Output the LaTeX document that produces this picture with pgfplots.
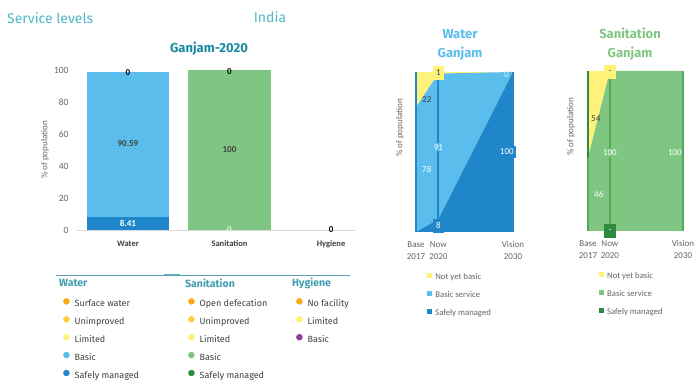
\documentclass[border=0pt]{standalone}
\usepackage{fontspec}
\setmainfont{Carlito}
\newfontfamily\fira{Fira Sans}
\usepackage{pgfplots}
\pgfplotsset{compat=1.18}
\definecolor{wdark}{RGB}{31,135,201}
\definecolor{wlight}{RGB}{91,189,236}
\definecolor{sgreen}{RGB}{128,198,131}
\definecolor{sdark}{RGB}{46,139,62}
\definecolor{smid}{RGB}{85,170,90}
\definecolor{nyb}{RGB}{255,242,122}
\definecolor{tealA}{RGB}{77,184,200}
\definecolor{tealB}{RGB}{26,138,160}
\definecolor{tealH}{RGB}{62,157,176}
\definecolor{orangeL}{RGB}{251,168,25}
\definecolor{unimp}{RGB}{254,206,64}
\definecolor{limited}{RGB}{255,240,120}
\definecolor{hbasic}{RGB}{142,58,150}
\definecolor{tickgrey}{RGB}{100,100,100}
\definecolor{labgrey}{RGB}{64,64,64}
\definecolor{linecol}{RGB}{90,165,176}
\newcommand{\lbl}{\fontsize{9}{10}\selectfont}
\begin{document}
\begin{tikzpicture}
\path[use as bounding box] (0pt,0pt) rectangle (694pt,380pt);

\node[anchor=west, text=tealA, font=\fira\fontsize{14}{16}\selectfont, inner sep=0pt] at (7pt,362pt) {Service levels};
\node[text=tealA, font=\fira\fontsize{14}{16}\selectfont, inner sep=0pt] at (270pt,363pt) {India};
\node[text=tealB, font=\fira\bfseries\fontsize{13}{15}\selectfont, inner sep=0pt] at (209pt,331pt) {Ganjam-2020};
\node[text=wlight, font=\fira\bfseries\fontsize{13}{19}\selectfont, align=center, inner sep=0pt] at (460pt,335.5pt) {Water\\Ganjam};
\node[text=sgreen, font=\fira\bfseries\fontsize{13}{19}\selectfont, align=center, inner sep=0pt] at (630pt,335.5pt) {Sanitation\\Ganjam};

% ---------------- main bar chart
\begin{axis}[
  at={(77pt,150pt)}, anchor=south west, scale only axis,
  width=278pt, height=160pt,
  xmin=-0.502, xmax=2.236, ymin=0, ymax=100,
  ybar stacked, bar width=0.81,
  axis x line*=bottom, axis y line*=left,
  x axis line style={-, draw=black!15, line width=0.8pt},
  y axis line style={draw=none},
  major tick length=0pt,
  xtick={0,1,2}, xticklabels={Water,Sanitation,Hygiene},
  ytick={0,20,40,60,80,100},
  /pgf/number format/assume math mode=true,
  yticklabel style={font=\fontsize{9.5}{11}\selectfont, text=tickgrey, xshift=-5pt},
  xticklabel style={font=\bfseries\fontsize{8.5}{10}\selectfont, text=labgrey, yshift=-7pt},
  ylabel={\% of population},
  ylabel style={at={(axis description cs:-0.115,0.5)}, anchor=center, font=\fontsize{9}{11}\selectfont, text=tickgrey},
  clip=false,
]
\addplot[fill=wdark, draw=none] coordinates {(0,8.41) (1,0) (2,0)};
\addplot[fill=sdark, draw=none] coordinates {(0,0) (1,0) (2,0)};
\addplot[fill=wlight, draw=none] coordinates {(0,90.59) (1,0) (2,0)};
\addplot[fill=sgreen, draw=none] coordinates {(0,0) (1,100) (2,0)};
\addplot[fill=limited, draw=none] coordinates {(0,0) (1,0) (2,0)};
\addplot[fill=unimp, draw=none] coordinates {(0,0) (1,0) (2,0)};
\addplot[fill=orangeL, draw=none] coordinates {(0,0) (1,0) (2,0)};
\end{axis}
\begin{axis}[
  at={(77pt,150pt)}, anchor=south west, scale only axis,
  width=278pt, height=160pt,
  xmin=-0.502, xmax=2.236, ymin=0, ymax=100, hide axis, clip=false,
]
\addplot[draw=none, no marks, forget plot] coordinates {(0,0) (2,0)};
\node[font=\bfseries\lbl, text=labgrey] at (axis cs:0,53.7) {90.59};
\node[font=\bfseries\lbl, text=white] at (axis cs:0,4.2) {8.41};
\node[font=\bfseries\lbl, text=black] at (axis cs:0,98.6) {0};
\node[font=\bfseries\lbl, text=labgrey] at (axis cs:1,50) {100};
\node[font=\bfseries\lbl, text=black] at (axis cs:1,99.3) {0};
\node[font=\bfseries\lbl, text=white!80!sgreen] at (axis cs:1,0.4) {0};
\node[font=\bfseries\lbl, text=black] at (axis cs:2,0.4) {0};
\end{axis}

\pgfplotsset{sqlegend/.style={
  reverse legend, legend cell align=left,
  legend image code/.code={\fill[##1] (0pt,-1pt) rectangle (5pt,4pt);},
  legend style={at={(axis description cs:0.115,-0.25)}, anchor=north west, draw=none, fill=none,
    font=\fontsize{8.7}{9}\selectfont, text=tickgrey, inner sep=0pt, row sep=8.5pt, column sep=2pt,
    nodes={inner sep=1pt, text height=6pt, text depth=1.5pt}},
}}

% ---------------- water area chart
\begin{axis}[
  at={(416pt,148pt)}, anchor=south west, scale only axis,
  width=97pt, height=160pt,
  xmin=2017, xmax=2030, ymin=0, ymax=100,
  stack plots=y, area style,
  axis line style={draw=none}, major tick length=0pt,
  ytick=\empty, xtick={2017,2020,2030},
  xticklabels={{Base\\2017},{Now\\2020},{Vision\\2030}},
  xticklabel style={align=center, font=\fontsize{9}{12}\selectfont, text=tickgrey, yshift=-6pt},
  ylabel={\% of population},
  ylabel style={at={(axis description cs:-0.165,0.65)}, anchor=center, font=\fontsize{9}{11}\selectfont, text=tickgrey},
  sqlegend,
]
\addplot[fill=wdark, draw=none] coordinates {(2017,0) (2020,8) (2030,100)} \closedcycle;
\addlegendentry{Safely managed}
\addplot[fill=wlight, draw=none] coordinates {(2017,78) (2020,91) (2030,0)} \closedcycle;
\addlegendentry{Basic service}
\addplot[fill=nyb, draw=none] coordinates {(2017,22) (2020,1) (2030,0)} \closedcycle;
\addlegendentry{Not yet basic}
\end{axis}
\begin{axis}[
  at={(416pt,148pt)}, anchor=south west, scale only axis,
  width=97pt, height=160pt,
  xmin=2017, xmax=2030, ymin=0, ymax=100, hide axis, clip=false,
]
\addplot[ycomb, no marks, draw=wdark, line width=2.6pt] coordinates {(2017,100) (2030,100)};
\addplot[ycomb, no marks, draw=wdark, line width=2pt] coordinates {(2020,100)};
\node[fill=nyb, text=labgrey, font=\lbl, minimum width=11pt, minimum height=14pt, inner sep=0pt] at (axis cs:2020,99.4) {1};
\node[fill=wdark, text=white, font=\lbl, minimum width=11pt, minimum height=14pt, inner sep=0pt] at (axis cs:2020,4) {8};
\node[fill=wdark, text=white, font=\lbl, minimum width=18pt, minimum height=12pt, inner sep=0pt, anchor=east, xshift=3pt] at (axis cs:2030,50) {100};
\node[fill=wlight, text=white, font=\lbl, inner sep=1pt] at (axis cs:2020,53) {91};
\node[anchor=west, text=labgrey, font=\lbl, inner sep=0pt, xshift=6pt] at (axis cs:2017,82.5) {22};
\node[anchor=west, text=white, font=\lbl, inner sep=0pt, xshift=6pt] at (axis cs:2017,39) {78};
\node[anchor=east, text=white!70!wlight, font=\lbl, inner sep=0pt, xshift=-4pt] at (axis cs:2030,98.5) {0};
\end{axis}

% ---------------- sanitation area chart
\begin{axis}[
  at={(588pt,149pt)}, anchor=south west, scale only axis,
  width=95pt, height=160pt,
  xmin=2017, xmax=2030, ymin=0, ymax=100,
  stack plots=y, area style,
  axis line style={draw=none}, major tick length=0pt,
  ytick=\empty, xtick={2017,2020,2030},
  xticklabels={{Base\\2017},{Now\\2020},{Vision\\2030}},
  xticklabel style={align=center, font=\fontsize{9}{12}\selectfont, text=tickgrey, yshift=-6pt},
  ylabel={\% of population},
  ylabel style={at={(axis description cs:-0.18,0.65)}, anchor=center, font=\fontsize{9}{11}\selectfont, text=tickgrey},
  sqlegend,
]
\addplot[fill=sdark, draw=none] coordinates {(2017,0) (2020,0) (2030,0)} \closedcycle;
\addlegendentry{Safely managed}
\addplot[fill=sgreen, draw=none] coordinates {(2017,46) (2020,100) (2030,100)} \closedcycle;
\addlegendentry{Basic service}
\addplot[fill=nyb, draw=none] coordinates {(2017,54) (2020,0) (2030,0)} \closedcycle;
\addlegendentry{Not yet basic}
\end{axis}
\begin{axis}[
  at={(588pt,149pt)}, anchor=south west, scale only axis,
  width=95pt, height=160pt,
  xmin=2017, xmax=2030, ymin=0, ymax=100, hide axis, clip=false,
]
\addplot[ycomb, no marks, draw=sdark, line width=2pt] coordinates {(2017,100)};
\addplot[ycomb, no marks, draw=smid, line width=2pt] coordinates {(2017,46)};
\addplot[ycomb, no marks, draw=smid, line width=2pt] coordinates {(2020,100) (2030,100)};
\node[fill=nyb, text=labgrey, font=\lbl, minimum width=12pt, minimum height=14pt, inner sep=0pt] at (axis cs:2020,99.6) {-};
\node[fill=sdark, text=white, font=\lbl, minimum width=12pt, minimum height=14pt, inner sep=0pt] at (axis cs:2020,0) {-};
\node[fill=sgreen, text=white, font=\lbl, inner sep=1pt] at (axis cs:2020,49) {100};
\node[anchor=east, text=white, font=\lbl, inner sep=0pt, xshift=-1pt] at (axis cs:2030,49) {100};
\node[anchor=west, text=labgrey, font=\lbl, inner sep=0pt, xshift=3pt] at (axis cs:2017,70) {54};
\node[anchor=west, text=white, font=\lbl, inner sep=0pt, xshift=6pt] at (axis cs:2017,23) {46};
\end{axis}

% ---------------- left legend
\draw[linecol, line width=0.8pt] (56pt,105pt) -- (350pt,105pt);
\draw[wlight!60!linecol, line width=1.4pt] (164pt,105.3pt) -- (180pt,105.3pt);
\node[anchor=west, inner sep=0pt, text=tealH, font=\fira\bfseries\fontsize{10.5}{12}\selectfont] at (59pt,97pt) {Water};
\node[anchor=west, inner sep=0pt, text=tealH, font=\fira\bfseries\fontsize{10.5}{12}\selectfont] at (185pt,97pt) {Sanitation};
\node[anchor=west, inner sep=0pt, text=tealH, font=\fira\bfseries\fontsize{10.5}{12}\selectfont] at (292pt,97pt) {Hygiene};

\pgfplotsset{dotlegend/.style={
  at={(0pt,0pt)}, anchor=south west, scale only axis, width=694pt, height=380pt,
  hide axis, xmin=0, xmax=1, ymin=0, ymax=1,
  legend cell align=left,
  legend image code/.code={\fill[##1] (3pt,2.6pt) circle (3pt);},
  legend style={anchor=north west, draw=none, fill=none, inner sep=0pt, row sep=7.6pt, column sep=5pt,
    font=\fira\fontsize{9}{10}\selectfont, text=labgrey,
    nodes={inner sep=0pt, text height=7pt, text depth=2pt}},
}}
\begin{axis}[dotlegend, legend style={at={(axis description cs:0.0908,0.2158)}}]
\addlegendimage{orangeL}\addlegendentry{Surface water}
\addlegendimage{unimp}\addlegendentry{Unimproved}
\addlegendimage{limited}\addlegendentry{Limited}
\addlegendimage{wlight}\addlegendentry{Basic}
\addlegendimage{wdark}\addlegendentry{Safely managed}
\end{axis}
\begin{axis}[dotlegend, legend style={at={(axis description cs:0.2709,0.2158)}}]
\addlegendimage{orangeL}\addlegendentry{Open defecation}
\addlegendimage{unimp}\addlegendentry{Unimproved}
\addlegendimage{limited}\addlegendentry{Limited}
\addlegendimage{sgreen}\addlegendentry{Basic}
\addlegendimage{sdark}\addlegendentry{Safely managed}
\end{axis}
\begin{axis}[dotlegend, legend style={at={(axis description cs:0.4265,0.2158)}}]
\addlegendimage{orangeL}\addlegendentry{No facility}
\addlegendimage{limited}\addlegendentry{Limited}
\addlegendimage{hbasic}\addlegendentry{Basic}
\end{axis}
\end{tikzpicture}
\end{document}
